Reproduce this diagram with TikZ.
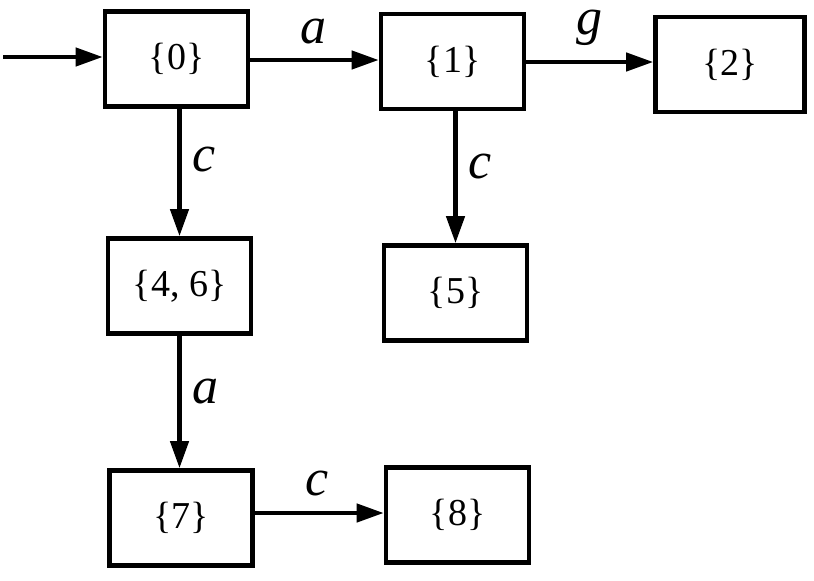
\documentclass[tikz,border=0pt]{standalone}
\usepackage{fontspec}
\setmainfont{Liberation Serif}
\usetikzlibrary{arrows.meta}
\begin{document}
\begin{tikzpicture}[x=1pt,y=-1pt,
  state/.style={draw=black,line width=4.6pt,minimum width=143pt,minimum height=95pt,inner sep=0pt,
    font=\fontsize{38}{40}\selectfont},
  conn/.style={line width=4.3pt,-{Triangle[length=27pt,width=18pt]}},
  lbl/.style={anchor=base,inner sep=0pt,font=\fontsize{52}{54}\selectfont\itshape}]
\useasboundingbox (0,0) rectangle (814,581);
\node[state] (n0) at (176.5,59) {\{0\}};
\node[state] (n1) at (452.5,61.5) {\{1\}};
\node[state,minimum width=149pt] (n2) at (730,64.5) {\{2\}};
\node[state] (n46) at (179.5,286) {\{4, 6\}};
\node[state] (n5) at (455.5,293) {\{5\}};
\node[state] (n7) at (181,518) {\{7\}};
\node[state] (n8) at (457.5,515) {\{8\}};
\coordinate (start) at (3,57);
\draw[conn] (start) -- (n0.west |- start);
\draw[conn] (n0.east |- 0,60) -- (n1.west |- 0,60);
\draw[conn] (n1.east |- 0,62) -- (n2.west |- 0,62);
\draw[conn] (n46.north |- n0.south) -- (n46.north);
\draw[conn] (n5.north |- n1.south) -- (n5.north);
\draw[conn] (n46.south) -- (n46.south |- n7.north);
\draw[conn] (n7.east |- 0,513) -- (n8.west |- 0,513);
\node[lbl] (la) at (313,43) {a};
\node[lbl] (lg) at (589,34) {g};
\node[lbl] (lc1) at (204,171) {c};
\node[lbl] (lc2) at (480,178) {c};
\node[lbl] (la2) at (205,403) {a};
\node[lbl] (lc3) at (317,495) {c};
\end{tikzpicture}
\end{document}
